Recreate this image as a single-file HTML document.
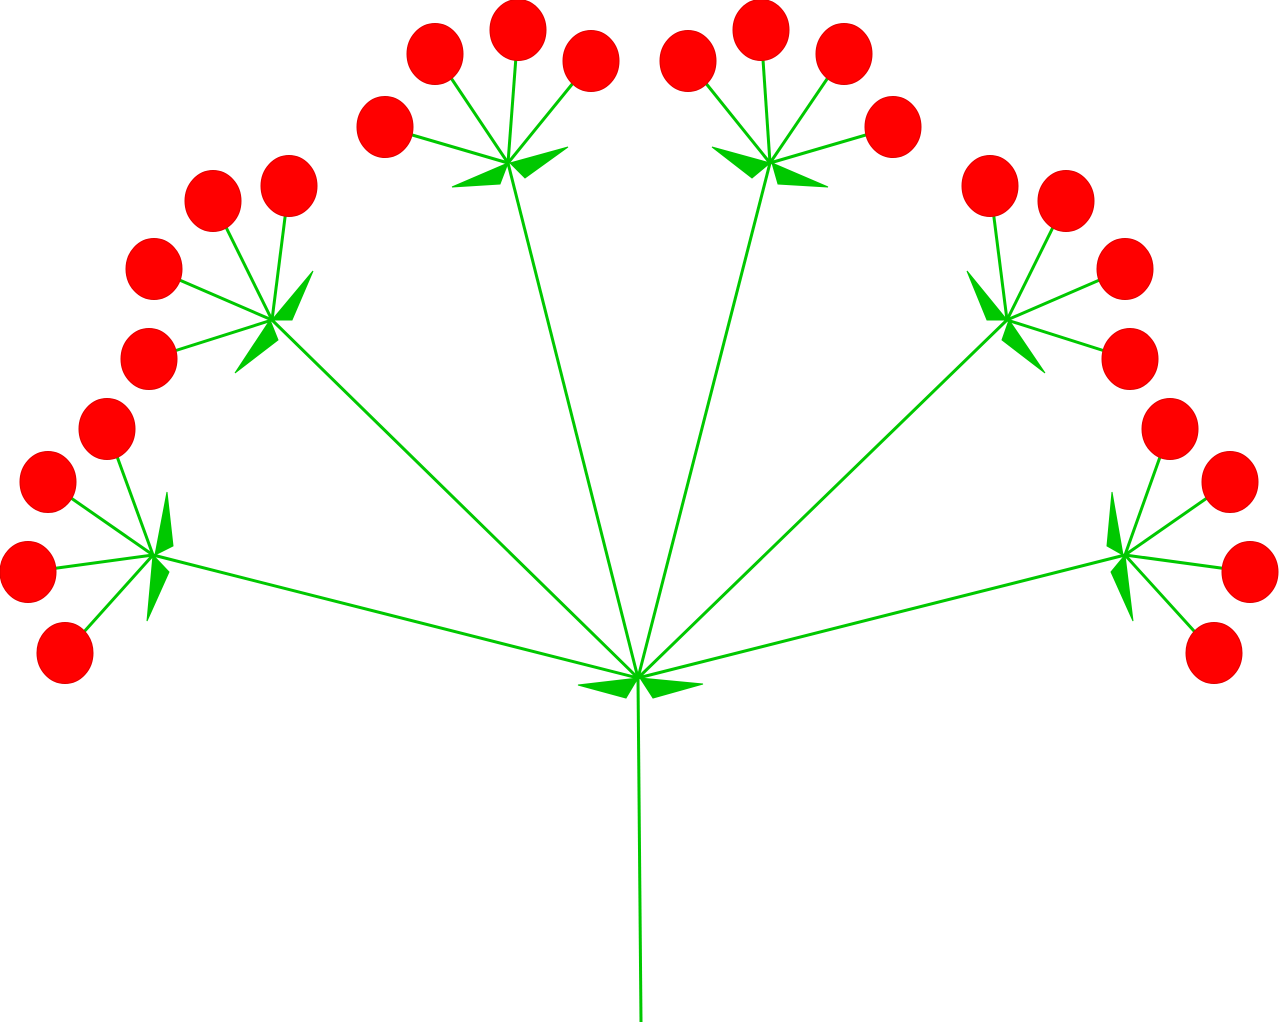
<!DOCTYPE html>
<html><head><meta charset="utf-8"><style>html,body{margin:0;padding:0;background:#fff;}svg{display:block}</style></head>
<body>
<svg width="1280" height="1024" viewBox="0 0 1280 1024" xmlns="http://www.w3.org/2000/svg">
<g id="g" stroke="#00c800" stroke-width="3" fill="#00c800"></g>
</svg>
<script>
const NS='http://www.w3.org/2000/svg';
const g=document.getElementById('g');
const center=[638,678];
const subs=[
 {c:[153,555],b:[[107,429],[48,482],[28,572],[65,653]],br:[[[155,555],[167,492],[173,546]],[[153,555],[147,621],[169,572]]]},
 {c:[272,320],b:[[213,201],[289,186],[154,269],[149,359]],br:[[[272,320],[313,271],[292,320]],[[270,320],[235,373],[278,340]]]},
 {c:[508,163],b:[[435,54],[518,30],[591,61],[385,127]],br:[[[508,163],[452,187],[500,184]],[[510,163],[568,147],[525,178]]]},
 {c:[770,163],b:[[688,61],[761,30],[844,54],[893,127]],br:[[[770,163],[712,147],[752,178]],[[772,163],[828,187],[778,184]]]},
 {c:[1007,320],b:[[990,186],[1066,201],[1125,269],[1130,359]],br:[[[1007,320],[967,271],[987,320]],[[1009,320],[1045,373],[1002,340]]]},
 {c:[1125,555],b:[[1170,429],[1230,482],[1250,572],[1214,653]],br:[[[1123,555],[1112,492],[1107,546]],[[1125,555],[1133,621],[1111,572]]]}
];
const mainBracts=[[[638,678],[578,685],[626,698]],[[640,678],[703,684],[653,698]]];
function line(a,b,name){const l=document.createElementNS(NS,'line');l.setAttribute('x1',a[0]);l.setAttribute('y1',a[1]);l.setAttribute('x2',b[0]);l.setAttribute('y2',b[1]);


g.appendChild(l);}
function poly(p,name){const e=document.createElementNS(NS,'polygon');e.setAttribute('points',p.map(q=>q.join(',')).join(' '));e.setAttribute('stroke-width','1');


g.appendChild(e);}
line(center,[641,1022],'main-stem');
mainBracts.forEach(p=>poly(p,'main-bract'));
const berries=[];
subs.forEach((s,i)=>{line(center,s.c,'ray-'+(i+1));s.b.forEach(b=>{line(s.c,b,'pedicel');berries.push(b);});s.br.forEach(p=>poly(p,'bracteole'));});
berries.forEach(b=>{const e=document.createElementNS(NS,'ellipse');e.setAttribute('cx',b[0]);e.setAttribute('cy',b[1]);e.setAttribute('rx',28);e.setAttribute('ry',30.5);e.setAttribute('fill','#ff0000');e.setAttribute('stroke','#e00000');e.setAttribute('stroke-width','1');


g.appendChild(e);});
</script>
</body></html>
